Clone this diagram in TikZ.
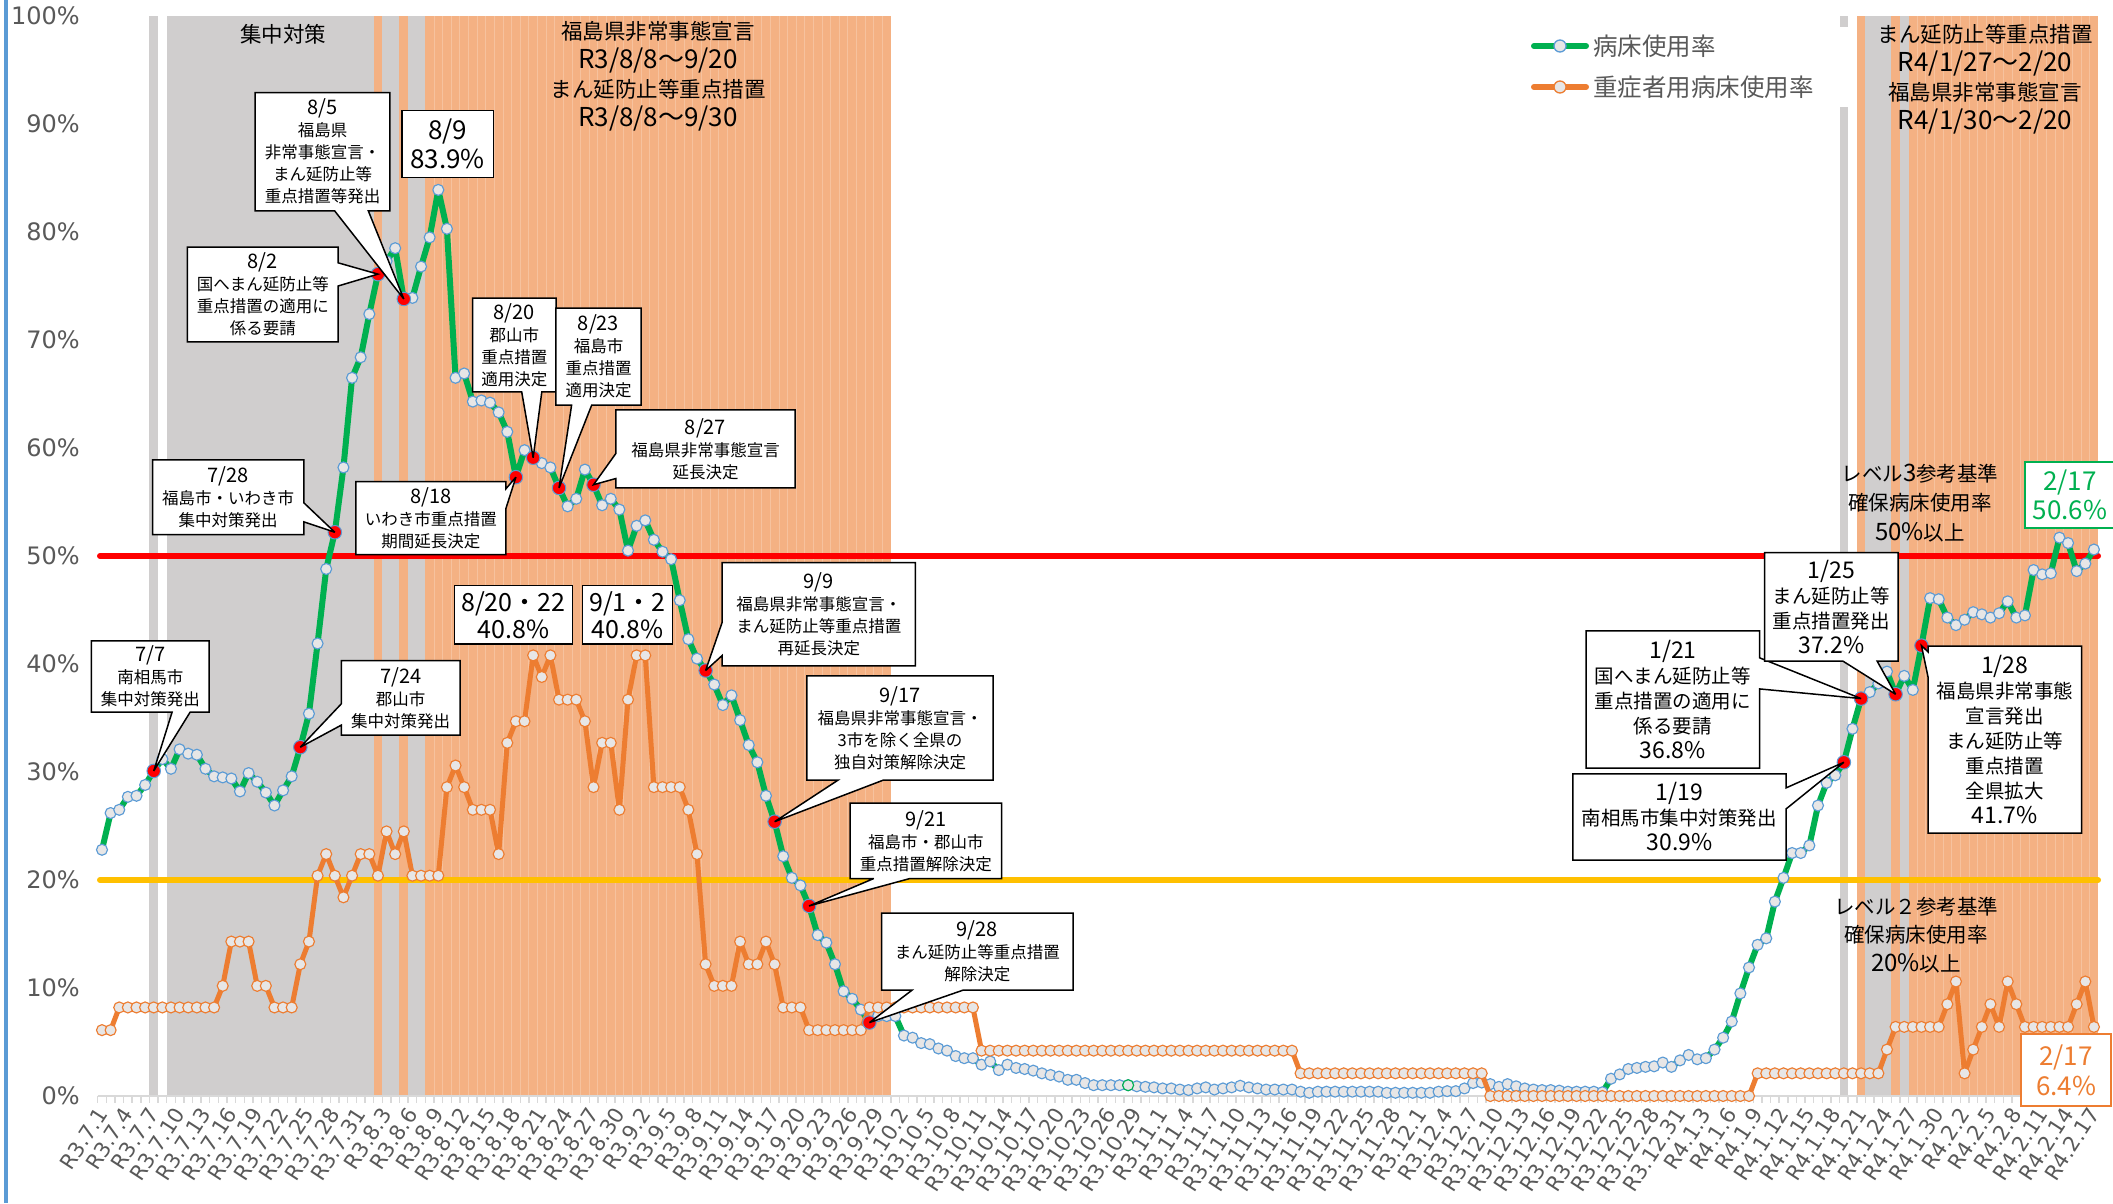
\documentclass[tikz,border=0pt]{standalone}
\usepackage{fontspec}
\setmainfont{Noto Sans CJK JP}
\newfontfamily\axisfont{DejaVu Sans}
\usetikzlibrary{calc}
\pgfdeclarelayer{back}
\pgfdeclarelayer{series}
\pgfdeclarelayer{boxes}
\pgfsetlayers{back,series,boxes,main}
\definecolor{bandgray}{HTML}{D0CECE}
\definecolor{bandorange}{HTML}{F4B183}
\definecolor{lgreen}{HTML}{00B050}
\definecolor{lorange}{HTML}{ED7D31}
\definecolor{mblue}{HTML}{5B9BD5}
\definecolor{mfill}{HTML}{E7E6E6}
\definecolor{axisgray}{HTML}{D9D9D9}
\definecolor{txtgray}{HTML}{595959}
\definecolor{lyellow}{HTML}{FFC000}
\newcommand\dL[1]{{\fontsize{20}{22}\selectfont #1}}
\newcommand\dR[1]{{\fontsize{23}{25}\selectfont #1}}
\newcommand\dT[1]{{\fontsize{26}{29}\selectfont #1}}
\newcommand\dV[1]{{\fontsize{24}{29}\selectfont #1}}
\newcommand\dayband[3]{\fill[#1] ({102+8.623*(#2-0.5)},16) rectangle ({102+8.623*(#3+0.5)},1096);}
\newcommand\calB[4]{\path[callshape] (#1.north west) -- (#1.north east) -- (#1.south east) -- ($(#1.south west)!#3!(#1.south east)$) -- (#4.center) -- ($(#1.south west)!#2!(#1.south east)$) -- (#1.south west) -- cycle;}
\newcommand\calR[4]{\path[callshape] (#1.north west) -- (#1.north east) -- ($(#1.north east)!#2!(#1.south east)$) -- (#4.center) -- ($(#1.north east)!#3!(#1.south east)$) -- (#1.south east) -- (#1.south west) -- cycle;}
\newcommand\calL[4]{\path[callshape] (#1.north west) -- (#1.north east) -- (#1.south east) -- (#1.south west) -- ($(#1.north west)!#3!(#1.south west)$) -- (#4.center) -- ($(#1.north west)!#2!(#1.south west)$) -- cycle;}
\tikzset{
  callshape/.style={fill=white, draw=black, line width=1.5pt, line join=miter, miter limit=4},
  cbL/.style={inner sep=0pt, align=center, font=\fontsize{16.5}{22}\selectfont},
  cbR/.style={inner sep=0pt, align=center, font=\fontsize{19.5}{25}\selectfont},
  bigbox/.style={draw=black, line width=1.5pt, fill=white, inner sep=0pt, align=center, font=\fontsize{25}{27}\selectfont},
  ttl/.style={inner sep=0pt, align=center, font=\fontsize{21.5}{29}\selectfont},
  lvl/.style={inner sep=0pt, align=center, font=\fontsize{20.5}{29.5}\selectfont},
  ylab/.style={anchor=east, inner sep=0pt, text=txtgray, font=\axisfont\fontsize{24}{26}\selectfont},
  ticklab/.style={anchor=east, rotate=57, inner sep=0pt, text=txtgray, font=\axisfont\fontsize{21}{23}\selectfont},
  legtext/.style={anchor=west, inner sep=0pt, text=txtgray, font=\fontsize{24.5}{26}\selectfont},
  reddot/.style={circle, fill=red, draw=mblue, line width=1pt, minimum size=13.5pt, inner sep=0pt},
  omk/.style={fill=mfill, draw=lorange, line width=1.15pt},
}
\begin{document}
\begin{tikzpicture}[x=1pt,y=-1pt]
\useasboundingbox (0,0) rectangle (2113,1203);
\begin{pgfonlayer}{back}
\fill[white] (0,0) rectangle (2113,1203);
\dayband{bandgray}{6}{6}
\dayband{bandgray}{8}{31}
\dayband{bandorange}{32}{32}
\dayband{bandgray}{33}{34}
\dayband{bandorange}{35}{35}
\dayband{bandgray}{36}{37}
\dayband{bandorange}{38}{91}
\dayband{bandgray}{202}{202}
\dayband{bandorange}{204}{204}
\dayband{bandgray}{205}{207}
\dayband{bandorange}{208}{208}
\dayband{bandgray}{209}{209}
\dayband{bandorange}{210}{231}
\foreach \k in {39,...,91} \draw[white, opacity=.22, line width=.8pt] ({102+8.623*(\k-0.5)},16) -- ({102+8.623*(\k-0.5)},1096);
\foreach \k in {211,...,231} \draw[white, opacity=.22, line width=.8pt] ({102+8.623*(\k-0.5)},16) -- ({102+8.623*(\k-0.5)},1096);
\fill[white] (1500,27) rectangle (1847.5,107);
\draw[mblue, line width=3.5pt] (6,0) -- (6,1203);
\draw[axisgray, line width=2.5pt] (97.7,1096) -- (2098.4,1096);
\foreach \k in {0,...,232} \draw[axisgray, line width=1.4pt] ({102+8.623*(\k-0.5)},1096) -- ++(0,7);
\draw[red, line width=6pt, line cap=round] (100,556) -- (2098,556);
\draw[lyellow, line width=6pt, line cap=round] (100,880) -- (2098,880);
\end{pgfonlayer}

\foreach \v in {0,10,...,100} \node[ylab] (yl\v) at (80,{1096-10.8*\v}) {\v\%};

\foreach \i/\lab in {0/R3.7.1,3/R3.7.4,6/R3.7.7,9/R3.7.10,12/R3.7.13,15/R3.7.16,18/R3.7.19,21/R3.7.22,24/R3.7.25,27/R3.7.28,30/R3.7.31,33/R3.8.3,36/R3.8.6,39/R3.8.9,42/R3.8.12,45/R3.8.15,48/R3.8.18,51/R3.8.21,54/R3.8.24,57/R3.8.27,60/R3.8.30,63/R3.9.2,66/R3.9.5,69/R3.9.8,72/R3.9.11,75/R3.9.14,78/R3.9.17,81/R3.9.20,84/R3.9.23,87/R3.9.26,90/R3.9.29,93/R3.10.2,96/R3.10.5,99/R3.10.8,102/R3.10.11,105/R3.10.14,108/R3.10.17,111/R3.10.20,114/R3.10.23,117/R3.10.26,120/R3.10.29,123/R3.11.1,126/R3.11.4,129/R3.11.7,132/R3.11.10,135/R3.11.13,138/R3.11.16,141/R3.11.19,144/R3.11.22,147/R3.11.25,150/R3.11.28,153/R3.12.1,156/R3.12.4,159/R3.12.7,162/R3.12.10,165/R3.12.13,168/R3.12.16,171/R3.12.19,174/R3.12.22,177/R3.12.25,180/R3.12.28,183/R3.12.31,186/R4.1.3,189/R4.1.6,192/R4.1.9,195/R4.1.12,198/R4.1.15,201/R4.1.18,204/R4.1.21,207/R4.1.24,210/R4.1.27,213/R4.1.30,216/R4.2.2,219/R4.2.5,222/R4.2.8,225/R4.2.11,228/R4.2.14,231/R4.2.17}
  \node[ticklab] (tl\i) at ({102+8.623*\i},1110) {\lab};

\begin{scope}[shift={(102,1096)}, x=8.623pt, y=10.8pt]
\begin{pgfonlayer}{series}
\draw[lgreen, line width=6pt, line join=round, mark size=5.5pt] plot[mark=*, mark options={solid, fill=mfill, draw=mblue, line width=1.15pt}] coordinates {
(0,22.8) (1,26.2) (2,26.5) (3,27.7) (4,27.8) (5,28.8) (6,30.1) (7,31.2) (8,30.3) (9,32.1) (10,31.7) (11,31.6) (12,30.3) (13,29.6) (14,29.5) (15,29.4) (16,28.2) (17,29.9) (18,29.1) (19,28.1) (20,26.9) (21,28.3) (22,29.6) (23,32.3) (24,35.4) (25,41.9) (26,48.8) (27,52.2) (28,58.2) (29,66.5) (30,68.4) (31,72.4) (32,76.1) (33,77.3) (34,78.5) (35,73.8) (36,73.9) (37,76.8) (38,79.5) (39,83.9) (40,80.3) (41,66.5) (42,66.9) (43,64.3) (44,64.4) (45,64.2) (46,63.3) (47,61.5) (48,57.3) (49,59.8) (50,59.1) (51,58.6) (52,58.2) (53,56.3) (54,54.6) (55,55.3) (56,58.0) (57,56.6) (58,54.7) (59,55.3) (60,54.3) (61,50.5) (62,52.8) (63,53.3) (64,51.5) (65,50.4) (66,49.7) (67,45.9) (68,42.3) (69,40.5) (70,39.4) (71,38.1) (72,36.2) (73,37.1) (74,34.8) (75,32.5) (76,30.9) (77,27.8) (78,25.4) (79,22.2) (80,20.2) (81,19.5) (82,17.6) (83,14.9) (84,14.2) (85,12.2) (86,9.7) (87,9.0) (88,8.0) (89,6.8) (90,7.4) (91,7.4) (92,7.4) (93,5.6) (94,5.4) (95,4.9) (96,4.8) (97,4.4) (98,4.2) (99,3.7) (100,3.5) (101,3.5) (102,2.9) (103,3.2) (104,2.4) (105,2.9) (106,2.6) (107,2.5) (108,2.35) (109,2.1) (110,1.95) (111,1.8) (112,1.5) (113,1.5) (114,1.2) (115,1.0) (116,1.0) (117,1.0) (118,1.0) (119,1.0) (120,0.9) (121,0.85) (122,0.8) (123,0.7) (124,0.7) (125,0.6) (126,0.55) (127,0.7) (128,0.8) (129,0.6) (130,0.7) (131,0.8) (132,0.95) (133,0.8) (134,0.7) (135,0.6) (136,0.6) (137,0.6) (138,0.6) (139,0.4) (140,0.3) (141,0.4) (142,0.4) (143,0.4) (144,0.4) (145,0.4) (146,0.4) (147,0.4) (148,0.4) (149,0.3) (150,0.3) (151,0.3) (152,0.3) (153,0.3) (154,0.3) (155,0.4) (156,0.45) (157,0.45) (158,0.7) (159,1.2) (160,1.25) (161,1.1) (162,0.85) (163,1.1) (164,0.9) (165,0.7) (166,0.6) (167,0.55) (168,0.55) (169,0.5) (170,0.4) (171,0.4) (172,0.4) (173,0.4) (174,0.35) (175,1.6) (176,2.0) (177,2.5) (178,2.6) (179,2.7) (180,2.75) (181,3.1) (182,2.7) (183,3.3) (184,3.8) (185,3.4) (186,3.5) (187,4.3) (188,5.4) (189,6.9) (190,9.5) (191,11.9) (192,14.0) (193,14.6) (194,18.0) (195,20.2) (196,22.5) (197,22.5) (198,23.2) (199,26.9) (200,29.0) (201,29.7) (202,30.9) (203,34.0) (204,36.8) (205,37.4) (206,38.2) (207,39.3) (208,37.2) (209,38.9) (210,37.6) (211,41.7) (212,46.1) (213,46.0) (214,44.3) (215,43.6) (216,44.1) (217,44.8) (218,44.6) (219,44.3) (220,44.7) (221,45.8) (222,44.3) (223,44.5) (224,48.7) (225,48.3) (226,48.4) (227,51.7) (228,51.2) (229,48.6) (230,49.3) (231,50.6)};
\filldraw[fill=mfill, draw=lgreen, line width=1.15pt] (119,1.0) circle[radius=5.5pt];
\draw[lorange, line width=5pt, line join=round] plot coordinates {
(0,6.1)(1,6.1)(2,8.2)(13,8.2)(14,10.2)(15,14.3)(17,14.3)(18,10.2)(19,10.2)(20,8.2)(22,8.2)(23,12.2)(24,14.3)(25,20.4)(26,22.4)(27,20.4)(28,18.4)(29,20.4)(30,22.4)(31,22.4)(32,20.4)(33,24.5)(34,22.4)(35,24.5)(36,20.4)(39,20.4)(40,28.6)(41,30.6)(42,28.6)(43,26.5)(45,26.5)(46,22.4)(47,32.7)(48,34.7)(49,34.7)(50,40.8)(51,38.8)(52,40.8)(53,36.7)(55,36.7)(56,34.7)(57,28.6)(58,32.7)(59,32.7)(60,26.5)(61,36.7)(62,40.8)(63,40.8)(64,28.6)(67,28.6)(68,26.5)(69,22.4)(70,12.2)(71,10.2)(73,10.2)(74,14.3)(75,12.2)(76,12.2)(77,14.3)(78,12.2)(79,8.2)(81,8.2)(82,6.1)(88,6.1)(89,8.2)(101,8.2)(102,4.2)(138,4.2)(139,2.1)(160,2.1)(161,0)(191,0)(192,2.1)(206,2.1)(207,4.3)(208,6.4)(213,6.4)(214,8.5)(215,10.6)(216,2.1)(217,4.3)(218,6.4)(219,8.5)(220,6.4)(221,10.6)(222,8.5)(223,6.4)(228,6.4)(229,8.5)(230,10.6)(231,6.4)};
\foreach \ia/\ib/\val in {0/1/6.1, 2/13/8.2, 14/14/10.2, 15/17/14.3, 18/19/10.2, 20/22/8.2, 23/23/12.2, 24/24/14.3, 25/25/20.4, 26/26/22.4, 27/27/20.4, 28/28/18.4, 29/29/20.4, 30/31/22.4, 32/32/20.4, 33/33/24.5, 34/34/22.4, 35/35/24.5, 36/39/20.4, 40/40/28.6, 41/41/30.6, 42/42/28.6, 43/45/26.5, 46/46/22.4, 47/47/32.7, 48/49/34.7, 50/50/40.8, 51/51/38.8, 52/52/40.8, 53/55/36.7, 56/56/34.7, 57/57/28.6, 58/59/32.7, 60/60/26.5, 61/61/36.7, 62/63/40.8, 64/67/28.6, 68/68/26.5, 69/69/22.4, 70/70/12.2, 71/73/10.2, 74/74/14.3, 75/76/12.2, 77/77/14.3, 78/78/12.2, 79/81/8.2, 82/88/6.1, 89/101/8.2, 102/138/4.2, 139/160/2.1, 161/191/0, 192/206/2.1, 207/207/4.3, 208/213/6.4, 214/214/8.5, 215/215/10.6, 216/216/2.1, 217/217/4.3, 218/218/6.4, 219/219/8.5, 220/220/6.4, 221/221/10.6, 222/222/8.5, 223/228/6.4, 229/229/8.5, 230/230/10.6, 231/231/6.4}
  {\foreach \i in {\ia,...,\ib} {\filldraw[omk] (\i,\val) circle[radius=5.5pt];}}
\node[reddot] (r1) at (6,30.1) {};
\node[reddot] (r2) at (23,32.3) {};
\node[reddot] (r3) at (27,52.2) {};
\node[reddot] (r4) at (32,76.1) {};
\node[reddot] (r5) at (35,73.8) {};
\node[reddot] (r6) at (48,57.3) {};
\node[reddot] (r7) at (50,59.1) {};
\node[reddot] (r8) at (53,56.3) {};
\node[reddot] (r9) at (57,56.6) {};
\node[reddot] (r10) at (70,39.4) {};
\node[reddot] (r11) at (78,25.4) {};
\node[reddot] (r12) at (82,17.6) {};
\node[reddot] (r13) at (89,6.8) {};
\node[reddot] (r14) at (202,30.9) {};
\node[reddot] (r15) at (204,36.8) {};
\node[reddot] (r16) at (208,37.2) {};
\node[reddot] (r17) at (211,41.7) {};
\end{pgfonlayer}
\end{scope}

% top texts
\node[ttl] (t1) at (283,34) {集中対策};
\node[ttl] (t2) at (658,76) {福島県非常事態宣言\\\dT{R3/8/8～9/20}\\まん延防止等重点措置\\\dT{R3/8/8～9/30}};
\node[ttl] (t3) at (1985,79.5) {まん延防止等重点措置\\\dT{R4/1/27～2/20}\\福島県非常事態宣言\\\dT{R4/1/30～2/20}};
\node[lvl] (lv3) at (1920,503) {レベル\dV{3}参考基準\\確保病床使用率\\\dV{50\%}以上};
\node[lvl, font=\fontsize{20.5}{28.5}\selectfont] (lv2) at (1916,935) {レベル２参考基準\\確保病床使用率\\\dV{20\%}以上};

% legend
\draw[lgreen, line width=6pt, line cap=round] (1534,46) -- (1586,46);
\node[circle, fill=mfill, draw=mblue, line width=1.3pt, minimum size=12pt, inner sep=0pt] (lm1) at (1560,46) {};
\node[legtext] (lg1) at (1593,46) {病床使用率};
\draw[lorange, line width=6pt, line cap=round] (1534,87) -- (1586,87);
\node[circle, fill=mfill, draw=lorange, line width=1.3pt, minimum size=12pt, inner sep=0pt] (lm2) at (1560,87) {};
\node[legtext] (lg2) at (1593,87) {重症者用病床使用率};

% plain boxes
\node[bigbox, minimum width=91.5pt, minimum height=66.6pt, font=\fontsize{26}{29}\selectfont] (bF) at (447.55,144) {8/9\\83.9\%};
\node[bigbox, minimum width=117.8pt, minimum height=58.3pt] (bS) at (513.4,614.85) {8/20・22\\40.8\%};
\node[bigbox, minimum width=89.7pt, minimum height=58.3pt] (bT) at (627.45,614.85) {9/1・2\\40.8\%};
\node[bigbox, draw=lgreen, text=lgreen, minimum width=90pt, minimum height=66pt, font=\fontsize{26}{29}\selectfont] (bU) at (2070,495) {2/17\\50.6\%};
\node[bigbox, draw=lorange, text=lorange, minimum width=90pt, minimum height=72pt, font=\fontsize{26}{30}\selectfont] (bV) at (2066,1070) {2/17\\6.4\%};

% callout texts
\node[cbL, minimum width=117.5pt, minimum height=71pt] (cA) at (150.25,676.5) {\dL{7/7}\\南相馬市\\集中対策発出};
\node[cbL, minimum width=118.3pt, minimum height=74.3pt] (cB) at (400.65,697.85) {\dL{7/24}\\郡山市\\集中対策発出};
\node[cbL, minimum width=150.9pt, minimum height=74.3pt] (cC) at (228.15,497.15) {\dL{7/28}\\福島市・いわき市\\集中対策発出};
\node[cbL, minimum width=150.5pt, minimum height=94.4pt] (cD) at (262.75,294.5) {\dL{8/2}\\国へまん延防止等\\重点措置の適用に\\係る要請};
\node[cbL, minimum width=134.3pt, minimum height=118pt] (cE) at (322.55,151.7) {\dL{8/5}\\福島県\\非常事態宣言・\\まん延防止等\\重点措置等発出};
\node[cbL, minimum width=83.3pt, minimum height=93.4pt] (cG) at (514.35,345) {\dL{8/20}\\郡山市\\重点措置\\適用決定};
\node[cbL, minimum width=85pt, minimum height=96.7pt] (cH) at (598.5,356.65) {\dL{8/23}\\福島市\\重点措置\\適用決定};
\node[cbL, minimum width=149.7pt, minimum height=72.6pt] (cI) at (430.85,518) {\dL{8/18}\\いわき市重点措置\\期間延長決定};
\node[cbL, minimum width=179pt, minimum height=77.7pt] (cJ) at (705.5,448.85) {\dL{8/27}\\福島県非常事態宣言\\延長決定};
\node[cbL, minimum width=192.9pt, minimum height=103pt] (cK) at (818.75,614.2) {\dL{9/9}\\福島県非常事態宣言・\\まん延防止等重点措置\\再延長決定};
\node[cbL, minimum width=186pt, minimum height=104pt] (cL) at (900,728) {\dL{9/17}\\福島県非常事態宣言・\\3市を除く全県の\\独自対策解除決定};
\node[cbL, minimum width=150.9pt, minimum height=75pt] (cM) at (925.85,840.8) {\dL{9/21}\\福島市・郡山市\\重点措置解除決定};
\node[cbL, minimum width=191.1pt, minimum height=76.7pt] (cN) at (977.25,951.65) {\dL{9/28}\\まん延防止等重点措置\\解除決定};
\node[cbR, minimum width=173.2pt, minimum height=137pt] (cO) at (1672.9,699.5) {\dR{1/21}\\国へまん延防止等\\重点措置の適用に\\係る要請\\\dR{36.8\%}};
\node[cbR, minimum width=212.8pt, minimum height=86pt] (cP) at (1679.4,817) {\dR{1/19}\\南相馬市集中対策発出\\\dR{30.9\%}};
\node[cbR, minimum width=133pt, minimum height=108.3pt] (cQ) at (1831.3,606.85) {\dR{1/25}\\まん延防止等\\重点措置発出\\\dR{37.2\%}};
\node[cbR, minimum width=153.3pt, minimum height=186.6pt] (cR) at (2004.85,739.7) {\dR{1/28}\\福島県非常事態\\宣言発出\\まん延防止等\\重点措置\\全県拡大\\\dR{41.7\%}};

\begin{pgfonlayer}{boxes}
\calB{cA}{0.685}{0.838}{r1}
\calL{cB}{0.58}{0.865}{r2}
\calR{cC}{0.575}{0.83}{r3}
\calR{cD}{0.166}{0.41}{r4}
\calB{cE}{0.59}{0.84}{r5}
\calR{cI}{0.1}{0.37}{r6}
\calB{cG}{0.588}{0.828}{r7}
\calB{cH}{0.185}{0.42}{r8}
\calL{cJ}{0.56}{0.88}{r9}
\calL{cK}{0.58}{0.9}{r10}
\calB{cL}{0.167}{0.409}{r11}
\calB{cM}{0.156}{0.395}{r12}
\calB{cN}{0.159}{0.425}{r13}
\calR{cP}{0.163}{0.407}{r14}
\calR{cO}{0.197}{0.423}{r15}
\calB{cQ}{0.588}{0.844}{r16}
\calL{cR}{0.03}{0.164}{r17}
\end{pgfonlayer}
\end{tikzpicture}
\end{document}
